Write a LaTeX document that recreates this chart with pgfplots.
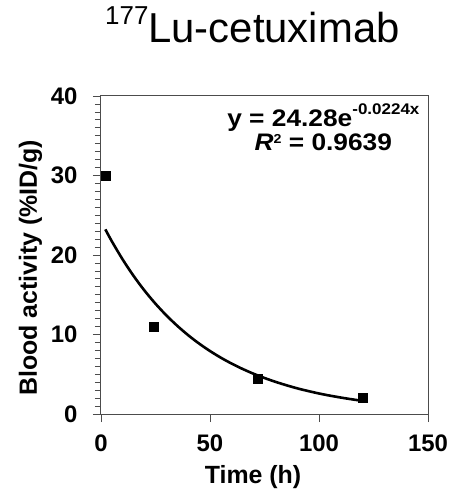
\documentclass[border=0pt]{standalone}
\usepackage{pgfplots}
\pgfplotsset{compat=1.18}
\usepackage{fontspec}
\setmainfont{Liberation Sans}
\begin{document}
\begin{tikzpicture}
\useasboundingbox (-101bp,-78bp) rectangle (351bp,414bp);
\begin{axis}[
    at={(0,0)}, anchor=south west,
    scale only axis,
    width=327bp, height=318bp,
    xmin=0, xmax=150,
    ymin=0, ymax=40,
    xtick={0,50,100,150},
    ytick={0,10,20,30,40},
    minor y tick num=9,
    tick pos=left,
    tick align=outside,
    major tick length=8bp,
    minor tick length=6bp,
    axis line style={black!70, line width=1bp},
    every tick/.style={black!70, line width=0.8bp},
    /pgf/number format/assume math mode=true,
    tick label style={font=\fontsize{24}{24}\selectfont\bfseries},
    xticklabel style={yshift=-9bp},
    yticklabel style={xshift=-12bp},
    xlabel={Time (h)},
    ylabel={Blood activity (\%ID/g)},
    label style={font=\fontsize{25}{25}\selectfont\bfseries},
    xlabel style={at={(axis description cs:0.465,-0.22)}, anchor=base},
    ylabel style={at={(axis description cs:-0.196,0.46)}, anchor=base, rotate=0},
    clip=false,
]
% exponential trend line, y = 24.28 exp(-0.0224 x)
\addplot[black, line width=2.6bp, smooth] coordinates {
    (2,23.22) (5,21.71) (10,19.41) (15,17.35) (20,15.51) (25,13.87)
    (30,12.40) (35,11.09) (40,9.91) (45,8.86) (50,7.92) (55,7.08)
    (60,6.33) (65,5.66) (70,5.06) (75,4.53) (80,4.05) (85,3.62)
    (90,3.23) (95,2.89) (100,2.58) (105,2.31) (110,2.07) (115,1.85)
    (120,1.65)
};
% measured values
\addplot[only marks, mark=square*, mark size=4.5bp, black] coordinates {
    (2,30) (24,11) (72,4.5) (120,2)
};
\node[anchor=base, font=\fontsize{42}{42}\selectfont] at (rel axis cs:0.463,1.167)
    {\raisebox{18bp}{\fontsize{26}{26}\selectfont 177}Lu-cetuximab};
\node[anchor=base, font=\fontsize{24}{24}\selectfont\bfseries] at (rel axis cs:0.680,0.9035)
    {\scalebox{1.1}[1]{y = 24.28e\raisebox{11.7bp}{\fontsize{15.5}{15.5}\selectfont -0.0224x}}};
\node[anchor=base, font=\fontsize{24}{24}\selectfont\bfseries] at (rel axis cs:0.680,0.828)
    {\scalebox{1.1}[1]{\textit{R}\raisebox{7.4bp}{\fontsize{13}{13}\selectfont 2} = 0.9639}};
\end{axis}
\end{tikzpicture}
\end{document}
